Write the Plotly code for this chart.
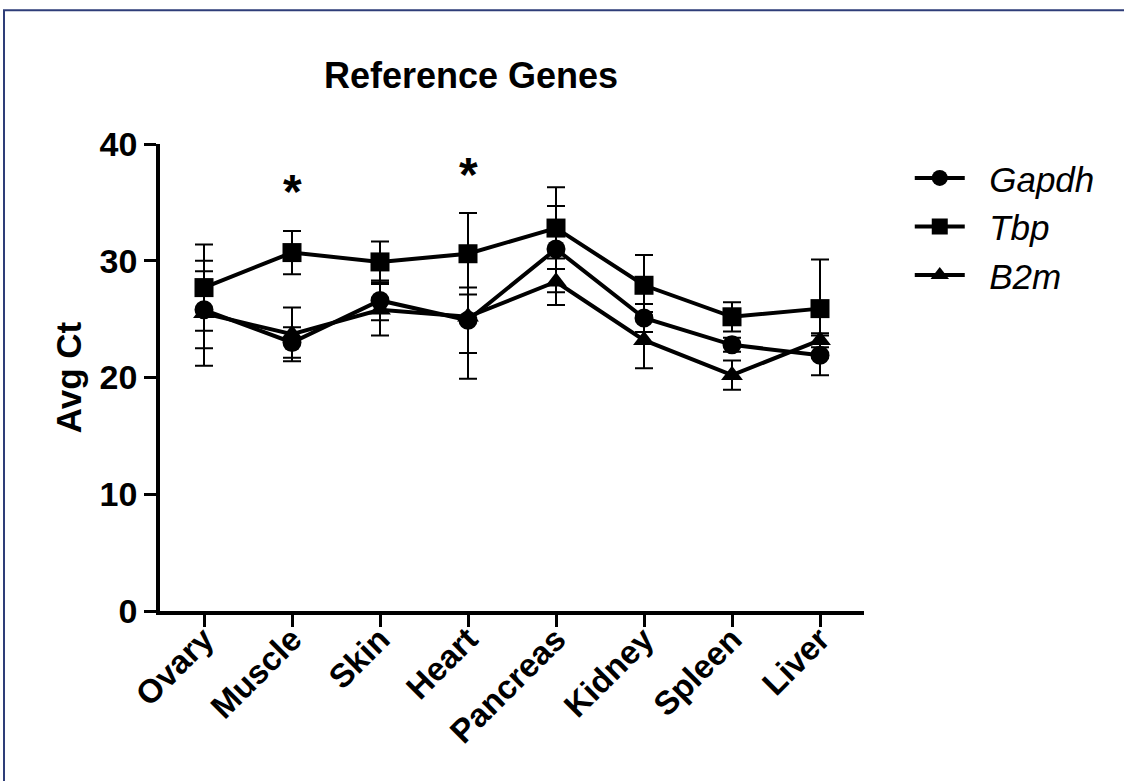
import plotly.graph_objects as go

tissues = ["Ovary", "Muscle", "Skin", "Heart", "Pancreas", "Kidney", "Spleen", "Liver"]

gapdh = [25.8, 23.0, 26.6, 24.9, 31.0, 25.1, 22.8, 21.9]
gapdh_err = [3.3, 1.3, 1.7, 2.8, 3.7, 1.2, 0.6, 1.7]

tbp = [27.7, 30.7, 29.9, 30.6, 32.8, 27.9, 25.2, 25.9]
tbp_err = [3.7, 1.85, 1.75, 3.5, 3.5, 2.6, 1.25, 4.2]

b2m = [25.5, 23.7, 25.8, 25.2, 28.2, 23.2, 20.2, 23.2]
b2m_err = [4.5, 2.3, 2.2, 5.3, 2.0, 2.4, 1.25, 0.6]

star_tissues = ["Muscle", "Heart"]
star_y = [35.9, 37.4]

FONT = "Liberation Sans, Arial, sans-serif"

fig = go.Figure()

series = [
    ("&nbsp;&nbsp;<i>Gapdh</i>", gapdh, gapdh_err, "circle"),
    ("&nbsp;&nbsp;<i>Tbp</i>", tbp, tbp_err, "square"),
    ("&nbsp;&nbsp;<i>B2m</i>", b2m, b2m_err, "triangle-up"),
]
for name, vals, errs, sym in series:
    fig.add_trace(go.Scatter(
        x=tissues, y=vals, name=name, mode="lines+markers",
        line=dict(color="black", width=4),
        marker=dict(symbol=sym, size=19, color="black"),
        error_y=dict(type="data", array=errs, visible=True,
                     color="black", thickness=2, width=9),
    ))

for t, yv in zip(star_tissues, star_y):
    fig.add_annotation(x=t, y=yv, text="<b>*</b>", showarrow=False,
                       font=dict(size=48, color="black", family=FONT),
                       yanchor="middle")

fig.add_shape(type="rect", xref="paper", yref="paper",
              x0=(4 - 160) / 704, x1=1.6, y0=-0.6, y1=(611.5 - 10) / 467.5,
              line=dict(color="#2E3D78", width=2), fillcolor="rgba(0,0,0,0)",
              layer="below")

fig.update_layout(
    width=1124, height=781,
    paper_bgcolor="white", plot_bgcolor="white",
    margin=dict(l=160, r=260, t=144, b=169.5, autoexpand=False),
    font=dict(family=FONT, color="black"),
    title=dict(text="<b>Reference Genes</b>", x=471 / 1124, xanchor="center",
               y=1 - 75 / 781, yanchor="middle",
               font=dict(size=36, family=FONT, color="black")),
    showlegend=True,
    legend=dict(x=1.065, y=0.99, xanchor="left", yanchor="top",
                font=dict(size=35, family=FONT, color="black"),
                itemwidth=50, tracegroupgap=0, bgcolor="rgba(0,0,0,0)"),
    xaxis=dict(range=[-0.5, 7.5], showgrid=False, zeroline=False,
               showline=True, linecolor="black", linewidth=3.5,
               ticks="outside", ticklen=12, tickwidth=3, tickcolor="black",
               tickangle=-45, ticklabelstandoff=-20,
               tickfont=dict(size=33, family=FONT, color="black"),
               tickvals=tissues, ticktext=["<b>%s</b>" % t for t in tissues]),
    yaxis=dict(range=[0, 40], showgrid=False, zeroline=False,
               showline=True, linecolor="black", linewidth=3.5,
               ticks="outside", ticklen=12, tickwidth=3, tickcolor="black",
               tickvals=[0, 10, 20, 30, 40],
               ticktext=["<b>0</b>", "<b>10</b>", "<b>20</b>", "<b>30</b>", "<b>40</b>"],
               tickfont=dict(size=34, family=FONT, color="black"),
               title=dict(text="<b>Avg Ct</b>", standoff=8,
                          font=dict(size=35, family=FONT, color="black"))),
)

fig.write_html(
    "out.html",
    config={"displayModeBar": False},
    post_script="document.body.style.margin='0';document.body.style.overflow='hidden';",
)
